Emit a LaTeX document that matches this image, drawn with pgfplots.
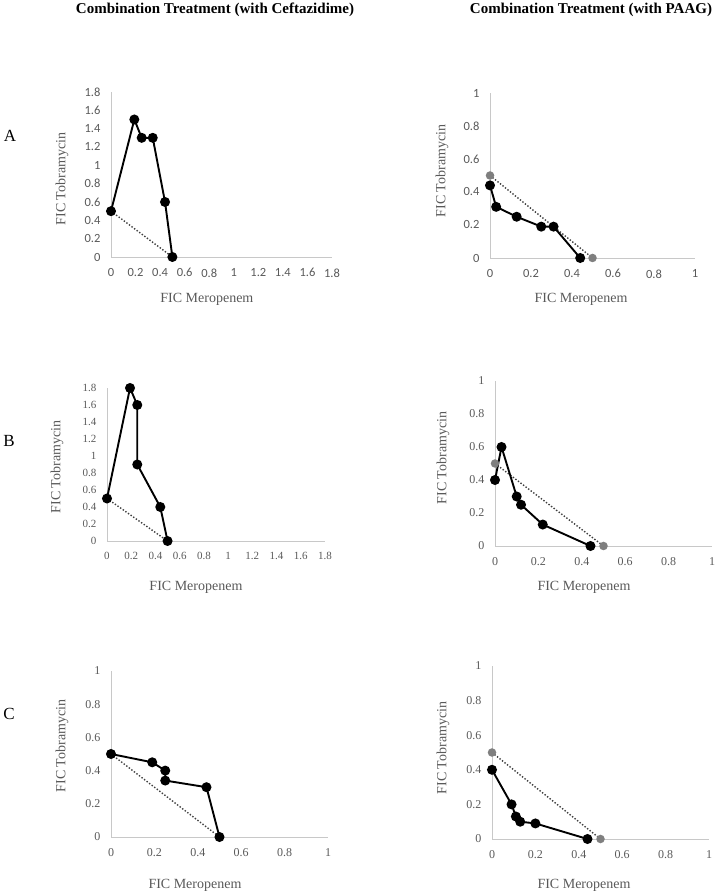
\documentclass[border=0pt]{standalone}
\usepackage{fontspec}
\setmainfont{Liberation Serif}
\newfontfamily\carlito{Carlito}
\usepackage{pgfplots}
\pgfplotsset{compat=1.18}
\definecolor{axgray}{HTML}{C8C8C8}
\definecolor{txtgray}{HTML}{595959}
\definecolor{dotgray}{HTML}{404040}
\definecolor{mkgray}{HTML}{7F7F7F}
\pgfplotsset{
  fic/.style={
    scale only axis, clip=false,
    axis lines=left, axis line style={-, draw=axgray, line width=0.9pt},
    major tick length=0pt, tick style={draw=none},
    xmin=0, ymin=0,
    /pgf/number format/assume math mode=true,
    tick label style={text=txtgray, font=\fontsize{12}{12}\selectfont},
    xticklabel style={yshift=-8pt},
    yticklabel style={xshift=-7pt},
    label style={text=txtgray, font=\fontsize{14}{14}\selectfont},
    xlabel={FIC Meropenem}, ylabel={FIC Tobramycin},
  },
  curve/.style={black, line width=1.9pt, mark=*, mark size=4pt, mark options={fill=black, draw=black}},
  add/.style={dotgray, dash pattern=on 1.4pt off 1.8pt, line width=1.4pt},
  addm/.style={dotgray, dash pattern=on 1.4pt off 1.8pt, line width=1.4pt, mark=*, mark size=3.5pt, mark options={solid, fill=mkgray, draw=mkgray}},
}
\begin{document}
\begin{tikzpicture}
\path[use as bounding box] (0pt,0pt) rectangle (717pt,896pt);
\node[font=\bfseries\fontsize{15}{15}\selectfont] at (215pt,886pt) {Combination Treatment (with Ceftazidime)};
\node[font=\bfseries\fontsize{15}{15}\selectfont] at (591pt,886pt) {Combination Treatment (with PAAG)};
\node[font=\fontsize{17}{17}\selectfont] at (10pt,760pt) {A};
\node[font=\fontsize{17}{17}\selectfont] at (9pt,455pt) {B};
\node[font=\fontsize{17}{17}\selectfont] at (9pt,182pt) {C};

% A left
\begin{axis}[fic, at={(111pt,639pt)}, anchor=origin, width=221pt, height=165pt,
  xmax=1.8, ymax=1.8,
  xtick={0,0.2,0.4,0.6,0.8,1,1.2,1.4,1.6,1.8},
  ytick={0,0.2,0.4,0.6,0.8,1,1.2,1.4,1.6,1.8},
  tick label style={font=\carlito\fontsize{12.5}{12.5}\selectfont},
  xlabel style={at={(axis description cs:0.434,-0.255)}, anchor=center},
  ylabel style={at={(axis description cs:-0.222,0.473)}, anchor=center}]
\addplot[add] coordinates {(0,0.5) (0.5,0)};
\addplot[curve] coordinates {(0,0.5) (0.19,1.5) (0.25,1.3) (0.34,1.3) (0.44,0.6) (0.5,0)};
\end{axis}

% A right
\begin{axis}[fic, at={(490pt,638pt)}, anchor=origin, width=205pt, height=165pt,
  xmax=1, ymax=1,
  xtick={0,0.2,0.4,0.6,0.8,1},
  ytick={0,0.2,0.4,0.6,0.8,1},
  tick label style={font=\carlito\fontsize{12.5}{12.5}\selectfont},
  xlabel style={at={(axis description cs:0.444,-0.248)}, anchor=center},
  ylabel style={at={(axis description cs:-0.234,0.527)}, anchor=center}]
\addplot[addm] coordinates {(0,0.5) (0.5,0)};
\addplot[curve] coordinates {(0,0.44) (0.03,0.31) (0.13,0.25) (0.25,0.19) (0.31,0.19) (0.44,0)};
\end{axis}

% B left
\begin{axis}[fic, at={(107pt,355pt)}, anchor=origin, width=218pt, height=153pt,
  xmax=1.8, ymax=1.8,
  xtick={0,0.2,0.4,0.6,0.8,1,1.2,1.4,1.6,1.8},
  ytick={0,0.2,0.4,0.6,0.8,1,1.2,1.4,1.6,1.8},
  tick label style={font=\fontsize{11}{11}\selectfont},
  xlabel style={at={(axis description cs:0.408,-0.30)}, anchor=center},
  ylabel style={at={(axis description cs:-0.229,0.484)}, anchor=center}]
\addplot[add] coordinates {(0,0.5) (0.5,0)};
\addplot[curve] coordinates {(0,0.5) (0.19,1.8) (0.25,1.6) (0.25,0.9) (0.44,0.4) (0.5,0)};
\end{axis}

% B right
\begin{axis}[fic, at={(495pt,350pt)}, anchor=origin, width=217pt, height=165pt,
  xmax=1, ymax=1,
  xtick={0,0.2,0.4,0.6,0.8,1},
  ytick={0,0.2,0.4,0.6,0.8,1},
  xlabel style={at={(axis description cs:0.41,-0.248)}, anchor=center},
  ylabel style={at={(axis description cs:-0.24,0.533)}, anchor=center}]
\addplot[addm] coordinates {(0,0.5) (0.5,0)};
\addplot[curve] coordinates {(0,0.4) (0.03,0.6) (0.1,0.3) (0.12,0.25) (0.22,0.13) (0.44,0)};
\end{axis}

% C left
\begin{axis}[fic, at={(111pt,59pt)}, anchor=origin, width=217pt, height=166pt,
  xmax=1, ymax=1,
  xtick={0,0.2,0.4,0.6,0.8,1},
  ytick={0,0.2,0.4,0.6,0.8,1},
  xlabel style={at={(axis description cs:0.387,-0.289)}, anchor=center},
  ylabel style={at={(axis description cs:-0.226,0.548)}, anchor=center}]
\addplot[add] coordinates {(0,0.5) (0.5,0)};
\addplot[curve] coordinates {(0,0.5) (0.19,0.45) (0.25,0.4) (0.25,0.34) (0.44,0.3) (0.5,0)};
\end{axis}

% C right
\begin{axis}[fic, at={(492pt,57pt)}, anchor=origin, width=217pt, height=173pt,
  xmax=1, ymax=1,
  xtick={0,0.2,0.4,0.6,0.8,1},
  ytick={0,0.2,0.4,0.6,0.8,1},
  xlabel style={at={(axis description cs:0.424,-0.266)}, anchor=center},
  ylabel style={at={(axis description cs:-0.226,0.526)}, anchor=center}]
\addplot[addm] coordinates {(0,0.5) (0.5,0)};
\addplot[curve] coordinates {(0,0.4) (0.09,0.2) (0.11,0.13) (0.13,0.1) (0.2,0.09) (0.44,0)};
\end{axis}
\end{tikzpicture}
\end{document}
